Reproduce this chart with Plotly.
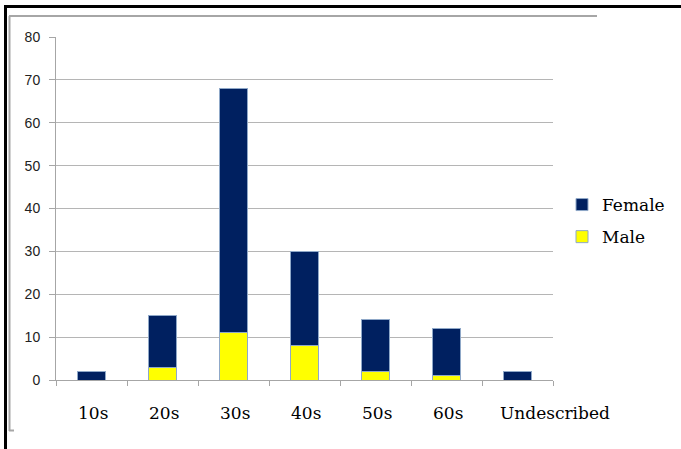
import plotly.graph_objects as go

categories = ["10s", "20s", "30s", "40s", "50s", "60s", "Undescribed"]
male = [0, 3, 11, 8, 2, 1, 0]
female = [2, 12, 57, 22, 12, 11, 2]
y_ticks = [0, 10, 20, 30, 40, 50, 60, 70, 80]

W, H = 681, 449
L, R, T, B = 56, 553, 37, 380

def px(x):
    return (x - L) / (R - L)

def py(y):
    return (B - y) / (B - T)

fig = go.Figure()
fig.add_trace(go.Bar(x=categories, y=male, name="Male", legendgroup="m", legendrank=2,
                     marker=dict(color="#FFFF00", line=dict(color="#8FA8C8", width=1))))
fig.add_trace(go.Bar(x=categories, y=female, name="Female", legendgroup="f", legendrank=1,
                     marker=dict(color="#002060", line=dict(color="#8FA8C8", width=1))))

shapes = []
# outer black frame
shapes.append(dict(type="line", xref="paper", yref="paper", x0=px(4), x1=px(681), y0=py(6.5), y1=py(6.5),
                   line=dict(color="black", width=3)))
shapes.append(dict(type="line", xref="paper", yref="paper", x0=px(5.5), x1=px(5.5), y0=py(5), y1=py(449),
                   line=dict(color="black", width=3)))
# inner gray frame
shapes.append(dict(type="line", xref="paper", yref="paper", x0=px(9), x1=px(597), y0=py(16), y1=py(16),
                   line=dict(color="#A6A6A6", width=2)))
shapes.append(dict(type="line", xref="paper", yref="paper", x0=px(9.5), x1=px(9.5), y0=py(16), y1=py(431),
                   line=dict(color="#A6A6A6", width=2)))
shapes.append(dict(type="line", xref="paper", yref="paper", x0=px(9), x1=px(14), y0=py(430.5), y1=py(430.5),
                   line=dict(color="#A6A6A6", width=2)))

# category labels (last one pushed right as in the original)
annotations = []
for i, c in enumerate(categories):
    annotations.append(dict(x=i, xref="x", y=0, yref="paper", yanchor="middle",
                            yshift=-33, xshift=37 if i == len(categories) - 1 else 1,
                            text=c, showarrow=False,
                            font=dict(family="DejaVu Serif", size=17, color="black")))

fig.update_layout(
    width=W, height=H,
    margin=dict(l=L, r=W - R, t=T, b=H - B, autoexpand=False),
    barmode="stack",
    bargap=0.6,
    plot_bgcolor="white",
    paper_bgcolor="white",
    showlegend=True,
    legend=dict(x=px(562), y=py(187), xanchor="left", yanchor="top",
                traceorder="grouped",
                font=dict(family="DejaVu Serif", size=17, color="black"),
                itemwidth=30, tracegroupgap=7),
    shapes=shapes,
    annotations=annotations,
    xaxis=dict(range=[-0.5, len(categories) - 0.5], autorange=False,
               showline=True, linecolor="#A6A6A6", linewidth=1,
               ticks="outside", tickson="boundaries", ticklen=5, tickcolor="#A6A6A6",
               showticklabels=False, automargin=False),
    yaxis=dict(range=[0, 80], tickvals=y_ticks, showgrid=True, gridcolor="#B5B5B5", gridwidth=1,
               showline=True, linecolor="#A6A6A6", linewidth=1,
               ticks="outside", ticklen=6, tickcolor="#A6A6A6", automargin=False,
               tickfont=dict(family="Liberation Sans", size=14, color="#222222"),
               ticklabelstandoff=6, zeroline=False),
)

fig.write_html("out.html")
